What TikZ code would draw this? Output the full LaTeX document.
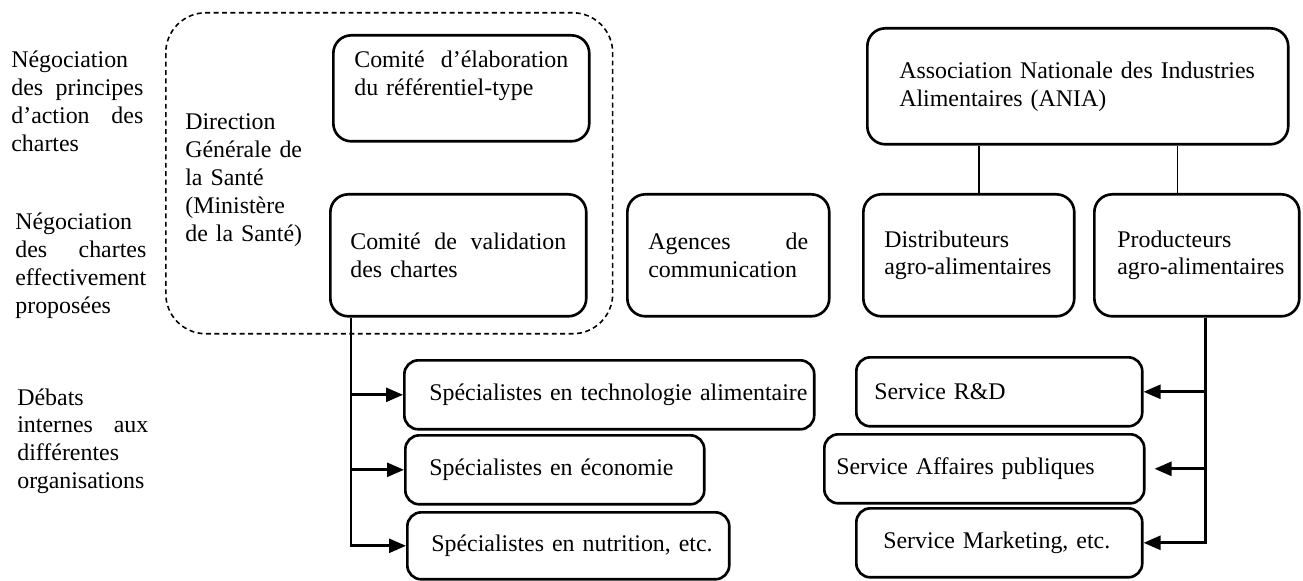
\documentclass[tikz,border=0pt]{standalone}
\usepackage{fontspec}
\setmainfont{Liberation Serif}
\usetikzlibrary{arrows.meta}

\newcommand{\jline}[2]{\makebox[#1][s]{\spaceskip=0.25em plus 1fil\relax #2}}

\begin{document}
\begin{tikzpicture}[x=0.02cm, y=-0.02cm, font={\fontsize{13.6}{15.9}\selectfont}]
    % Define styles
    \tikzset{
        box/.style={rectangle, draw, rounded corners=0.36cm, line width=1.5pt, align=left, anchor=north west, inner ysep=0pt},
        smallbox/.style={box, rounded corners=0.28cm},
        group/.style={rectangle, draw, rounded corners=0.8cm, line width=0.9pt, dash pattern=on 2.8pt off 2pt, anchor=north west},
        rowtext/.style={align=left, anchor=base west, inner sep=0pt},
        link/.style={line width=0.8pt},
        arrow/.style={-{Triangle[length=0.34cm,width=0.28cm]}, line width=1.5pt}
    }
    \useasboundingbox (0,0) rectangle (1303,581);

    % Row labels
    \node[rowtext, text width=2.64cm] (row_principes) at (11,68) {Négociation\\\jline{2.64cm}{des principes}\\\jline{2.64cm}{d'action des}\\chartes};
    \node[rowtext, text width=2.62cm] (row_chartes) at (15,230) {Négociation\\\jline{2.62cm}{des chartes}\\effectivement\\proposées};
    \node[rowtext, text width=2.62cm] (row_debats) at (17,405) {Débats\\\jline{2.62cm}{internes aux}\\différentes\\organisations};

    % Direction Generale de la Sante
    \node[group, minimum width=8.94cm, minimum height=6.42cm] (dgs) at (165,12) {};
    \node[rowtext, text width=2.4cm] (dgs_text) at (185,130) {Direction\\Générale de\\la Santé\\(Ministère\\de la Santé)};
    \node[box, minimum width=5.12cm, minimum height=2.12cm, inner xsep=0.42cm, text width=4.28cm, text depth=1.16cm] (elab) at (332,34) {\jline{4.28cm}{Comité d'élaboration}\\du référentiel-type};
    \node[box, minimum width=5.12cm, minimum height=2.44cm, inner xsep=0.4cm, text width=4.32cm] (valid) at (329,193) {\jline{4.32cm}{Comité de validation}\\des chartes};

    % Other actors
    \node[box, minimum width=4.04cm, minimum height=2.44cm, inner xsep=0.42cm, text width=3.2cm] (agences) at (626,193) {\jline{3.2cm}{Agences de}\\communication};
    \node[box, minimum width=8.42cm, minimum height=2.32cm, inner xsep=0.64cm, text width=7.14cm] (ania) at (866,27) {\mbox{Association Nationale des Industries}\\Alimentaires (ANIA)};
    \node[box, minimum width=4.22cm, minimum height=2.44cm, inner xsep=0.42cm, text width=3.38cm] (distrib) at (862,193) {Distributeurs\\\mbox{agro-alimentaires}};
    \node[box, minimum width=4.1cm, minimum height=2.44cm, inner xsep=0.46cm, text width=3.18cm] (produc) at (1093,193) {Producteurs\\\mbox{agro-alimentaires}};

    % Internal debates
    \node[smallbox, minimum width=8.2cm, minimum height=1.38cm, inner xsep=0.5cm, text width=7.2cm] (techno) at (403,359) {\mbox{Spécialistes en technologie alimentaire}};
    \node[smallbox, minimum width=5.98cm, minimum height=1.38cm, inner xsep=0.48cm, text width=5.02cm] (econ) at (404,434) {Spécialistes en économie};
    \node[smallbox, minimum width=6.44cm, minimum height=1.34cm, inner xsep=0.48cm, text width=5.48cm] (nutri) at (406,511) {\mbox{Spécialistes en nutrition, etc.}};
    \node[smallbox, minimum width=5.72cm, minimum height=1.38cm, inner xsep=0.36cm, text width=5cm] (rd) at (855,356) {Service R\&D};
    \node[smallbox, minimum width=6.4cm, minimum height=1.38cm, inner xsep=0.24cm, text width=5.92cm] (affaires) at (823,433) {Service Affaires publiques};
    \node[smallbox, minimum width=5.72cm, minimum height=1.38cm, inner xsep=0.54cm, text width=4.64cm] (marketing) at (855,507) {Service Marketing, etc.};

    % Links
    \coordinate (ania_distrib) at ([xshift=0.2cm]distrib.north);
    \coordinate (ania_produc) at ([xshift=-0.39cm]produc.north);
    \draw[link] (ania_distrib) -- (ania_distrib |- ania.south);
    \draw[link] (ania_produc) -- (ania_produc |- ania.south);

    % Arrows
    \coordinate (valid_trunk) at ([xshift=0.44cm]valid.south west);
    \draw[arrow] (valid_trunk) |- (techno.west);
    \draw[arrow] (valid_trunk) |- (econ.west);
    \draw[arrow] (valid_trunk) |- (nutri.west);
    \coordinate (produc_trunk) at ([xshift=0.17cm]produc.south);
    \draw[arrow] (produc_trunk) |- (rd.east);
    \draw[arrow, shorten >=0.18cm] (produc_trunk) |- (affaires.east);
    \draw[arrow] (produc_trunk) |- (marketing.east);
\end{tikzpicture}
\end{document}
